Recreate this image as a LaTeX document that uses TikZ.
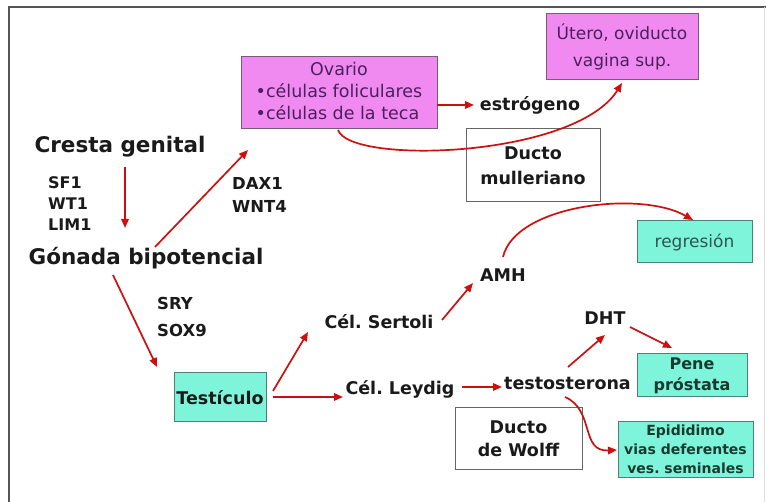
\documentclass[tikz,border=0pt]{standalone}
\usepackage{fontspec}
\setmainfont{DejaVu Sans}
\usetikzlibrary{arrows.meta}
\definecolor{pinkfill}{HTML}{F08AF0}
\definecolor{pinkdraw}{HTML}{7A5A7A}
\definecolor{tealfill}{HTML}{7EF5DA}
\definecolor{tealdraw}{HTML}{4F7F75}
\definecolor{arrowred}{HTML}{CC1010}
\definecolor{txtdark}{HTML}{1A1A1A}
\definecolor{txtpurple}{HTML}{4A2060}
\definecolor{txtteal}{HTML}{2F5550}
\definecolor{txtgreen}{HTML}{1A3A30}
\definecolor{framegray}{HTML}{555555}
\frenchspacing
\begin{document}
\begin{tikzpicture}[x=1pt,y=-1pt,
  arr/.style={draw=arrowred, line width=1.7pt, -{Triangle[length=9pt,width=7.5pt]}},
  lbl/.style={inner sep=0pt, font=\bfseries\fontsize{17.5}{21}\selectfont, text=txtdark},
  big/.style={inner sep=0pt, font=\bfseries\fontsize{21.5}{25}\selectfont, text=txtdark},
  genes/.style={inner sep=0pt, anchor=west, align=left, text=txtdark},
  pinkbox/.style={draw=pinkdraw, fill=pinkfill, line width=1pt, inner sep=0pt, text=txtpurple},
  tealbox/.style={draw=tealdraw, fill=tealfill, line width=1pt, inner sep=0pt},
  whitebox/.style={draw=gray!80!black, fill=white, line width=1pt, inner sep=0pt, text=txtdark}
]
\useasboundingbox (0,0) rectangle (766,502);
\fill[white] (0,0) rectangle (766,502);
\draw[framegray, line width=2pt] (8.5,502) -- (8.5,7) -- (766,7);
\draw[gray!25, line width=1pt] (764,7) -- (764,502);

% boxes
\node[pinkbox, minimum width=196pt, minimum height=72pt,
      font=\fontsize{17.5}{22}\selectfont] (ovario) at (339,93)
  {\begin{tabular}{@{}l@{}}\multicolumn{1}{@{}c@{}}{Ovario}\\•células foliculares\\•células de la teca\end{tabular}};
\node[pinkbox, minimum width=152pt, minimum height=66pt, align=center,
      font=\fontsize{17}{27}\selectfont] (utero) at (622,47)
  {Útero, oviducto\\vagina sup.};
\node[whitebox, minimum width=134pt, minimum height=73pt, align=center,
      font=\bfseries\fontsize{17.5}{25}\selectfont] (ductom) at (533,165.5)
  {Ducto\\mulleriano};
\node[tealbox, minimum width=115pt, minimum height=42pt, text=txtteal,
      font=\fontsize{17}{21}\selectfont] (regresion) at (694.5,242) {regresión};
\node[tealbox, minimum width=92pt, minimum height=49pt, text=txtdark,
      font=\bfseries\fontsize{17.5}{21}\selectfont] (testiculo) at (220,397.5) {Testículo};
\node[tealbox, minimum width=110pt, minimum height=43pt, align=center, text=txtgreen,
      font=\bfseries\fontsize{16}{21}\selectfont] (pene) at (692,375.5) {Pene\\próstata};
\node[whitebox, minimum width=127pt, minimum height=62pt, align=center,
      font=\bfseries\fontsize{17.5}{23}\selectfont] (wolff) at (518.5,439) {Ducto\\de Wolff};
\node[tealbox, minimum width=135pt, minimum height=55pt, align=center, text=txtgreen,
      font=\bfseries\fontsize{14}{19}\selectfont] (epid) at (685.5,449.5)
  {Epididimo\\vias deferentes\\ves. seminales};

% text labels
\node[big] (cresta) at (120,147) {Cresta genital};
\node[big] (gonada) at (146,258) {Gónada bipotencial};
\node[genes, font=\bfseries\fontsize{16}{21}\selectfont] (g1) at (48,204) {SF1\\WT1\\LIM1};
\node[genes, font=\bfseries\fontsize{16.5}{23}\selectfont] (g2) at (232,194.5) {DAX1\\WNT4};
\node[genes, font=\bfseries\fontsize{16.5}{27}\selectfont] (g3) at (157,316.5) {SRY\\SOX9};
\node[lbl] (estrogeno) at (530,105) {estrógeno};
\node[lbl] (amh) at (503,275) {AMH};
\node[lbl] (sertoli) at (379,322) {Cél. Sertoli};
\node[lbl] (leydig) at (400,389) {Cél. Leydig};
\node[lbl] (testo) at (567.5,383) {testosterona};
\node[lbl] (dht) at (605,318) {DHT};

% connectors
\draw[arr] ([xshift=5pt,yshift=-20pt]cresta.center) -- ([xshift=-21pt,yshift=30pt]gonada.center);
\draw[arr] ([xshift=9pt,yshift=11pt]gonada.center) -- ([xshift=-91pt,yshift=-57pt]ovario.center);
\draw[arr] ([xshift=-33pt,yshift=-17pt]gonada.center) -- ([xshift=-63pt,yshift=30.5pt]testiculo.center);
\draw[arr] ([xshift=53pt,yshift=6.5pt]testiculo.center) -- ([xshift=-71pt,yshift=-10pt]sertoli.center);
\draw[arr] ([xshift=53pt,yshift=0.5pt]testiculo.center) -- ([xshift=-57pt,yshift=-8pt]leydig.center);
\draw[arr] ([xshift=63pt,yshift=2pt]sertoli.center) -- ([xshift=-30pt,yshift=-8pt]amh.center);
\draw[arr] ([xshift=62pt,yshift=2pt]leydig.center) -- ([xshift=-65.5pt,yshift=-4pt]testo.center);
\draw[arr] ([xshift=0.5pt,yshift=16pt]testo.center) -- ([yshift=-17pt]dht.center);
\draw[arr] ([xshift=25pt,yshift=-9pt]dht.center) -- ([xshift=-20pt,yshift=27.5pt]pene.center);
\draw[arr] ([xshift=-2.5pt,yshift=-14pt]testo.center) .. controls +(30,13) and +(-37,2) .. ([xshift=-68.5pt,yshift=-0.5pt]epid.center);
\draw[arr] ([xshift=98pt,yshift=-12pt]ovario.center) -- ([xshift=-56pt]estrogeno.center);
\draw[arr] ([xshift=-1pt,yshift=-37pt]ovario.center) .. controls +(12,35) and +(-47,75) .. ([yshift=-36pt]utero.center);
\draw[arr] ([yshift=18pt]amh.center) .. controls +(12,-52) and +(-53,-30) .. ([xshift=-1.5pt,yshift=22pt]regresion.center);
\end{tikzpicture}
\end{document}
